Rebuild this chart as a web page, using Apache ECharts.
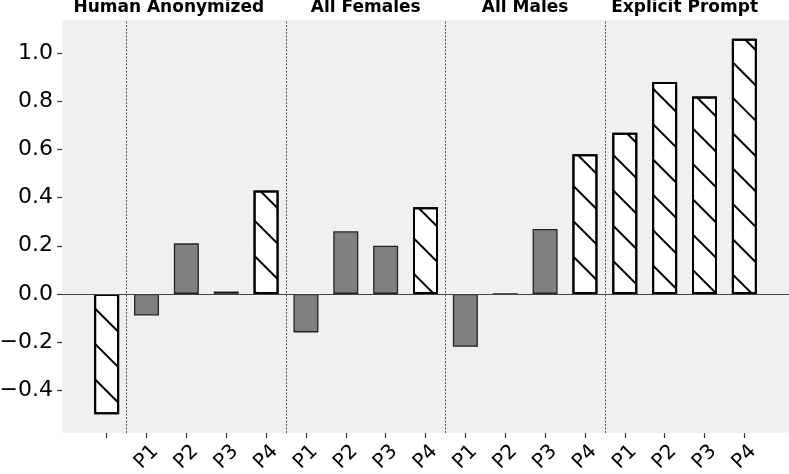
<!DOCTYPE html>
<html>
<head>
<meta charset="utf-8">
<script src="https://cdn.jsdelivr.net/npm/echarts@6/dist/echarts.min.js"></script>
<style>
html,body{margin:0;padding:0;background:#fff;}
#chart{width:789px;height:474px;}
</style>
</head>
<body>
<div id="chart"></div>
<script>
// ---- data ----
const CATEGORIES = ['', 'P1', 'P2', 'P3', 'P4', 'P1', 'P2', 'P3', 'P4', 'P1', 'P2', 'P3', 'P4', 'P1', 'P2', 'P3', 'P4'];
const VALUES = [-0.50, -0.09, 0.21, 0.01, 0.43, -0.16, 0.26, 0.20, 0.36, -0.22, 0.00, 0.27, 0.58, 0.67, 0.88, 0.82, 1.06];
const HATCHED = [1, 0, 0, 0, 1, 0, 0, 0, 1, 0, 0, 0, 1, 1, 1, 1, 1];
const GROUPS = ['Human Anonymized', 'All Females', 'All Males', 'Explicit Prompt'];
const GROUP_CENTERS = [1.56, 6.5, 10.5, 14.5];
const SEPARATORS = [0.5, 4.5, 8.5, 12.5];
const Y_TICKS = [-0.4, -0.2, 0.0, 0.2, 0.4, 0.6, 0.8, 1.0];
const X_TICKS = CATEGORIES.map((c, i) => i);

const FONT = 'DejaVu Sans';
const chart = echarts.init(document.getElementById('chart'));

const grayData = [], hatchData = [];
VALUES.forEach((v, i) => { (HATCHED[i] ? hatchData : grayData).push([i, v]); });

const option = {
  animation: false,
  grid: {
    left: 62, top: 20, width: 727, bottom: 41, show: true, backgroundColor: '#f0f0f0', borderWidth: 0,
    containLabel: false, outerBoundsMode: 'none'
  },
  xAxis: {
    type: 'value', min: -1.12, max: 17.12,
    axisLine: { show: false, onZero: false },
    splitLine: { show: false },
    axisTick: { show: true, customValues: X_TICKS, length: 5, lineStyle: { color: '#333', width: 1.2 } },
    axisLabel: {
      customValues: X_TICKS, formatter: v => CATEGORIES[Math.round(v)],
      rotate: 45, align: 'center', verticalAlign: 'middle', margin: 24,
      fontSize: 20, color: '#000', fontFamily: FONT
    }
  },
  yAxis: {
    type: 'value', min: -0.578, max: 1.138,
    axisLine: { show: false, onZero: false },
    splitLine: { show: false },
    axisTick: { show: true, customValues: Y_TICKS, length: 5, lineStyle: { color: '#333', width: 1.2 } },
    axisLabel: {
      customValues: Y_TICKS, formatter: v => v.toFixed(1).replace('-', '\u2212'),
      fontSize: 22, color: '#000', fontFamily: FONT, margin: 9
    }
  },
  series: [
    {
      type: 'bar', data: grayData, barWidth: 25, barGap: '-100%',
      itemStyle: { color: '#808080', borderColor: '#222', borderWidth: 1.3 },
      markLine: {
        silent: true, symbol: ['none', 'none'], label: { show: false },
        data: [{ yAxis: 0, lineStyle: { color: '#444', width: 1, type: 'solid' } }]
          .concat(SEPARATORS.map(x => ({ xAxis: x, lineStyle: { color: '#555', width: 1, type: [2, 1.5] } })))
      }
    },
    {
      type: 'bar', data: hatchData, barWidth: 25, barGap: '-100%',
      itemStyle: {
        color: '#ffffff', borderColor: '#000', borderWidth: 2,
        decal: {
          symbol: 'rect', symbolSize: 1, color: '#000', backgroundColor: 'rgba(0,0,0,0)',
          dashArrayX: [1, 0], dashArrayY: [1.4, 23], rotation: Math.PI / 4
        }
      }
    }
  ]
};
chart.setOption(option);

chart.setOption({
  graphic: GROUPS.map((g, i) => ({
    type: 'text',
    x: chart.convertToPixel({ xAxisIndex: 0 }, GROUP_CENTERS[i]),
    y: -1,
    style: { text: g, fill: '#000', font: 'bold 17px "DejaVu Sans"', align: 'center', verticalAlign: 'top' }
  }))
});
</script>
</body>
</html>
